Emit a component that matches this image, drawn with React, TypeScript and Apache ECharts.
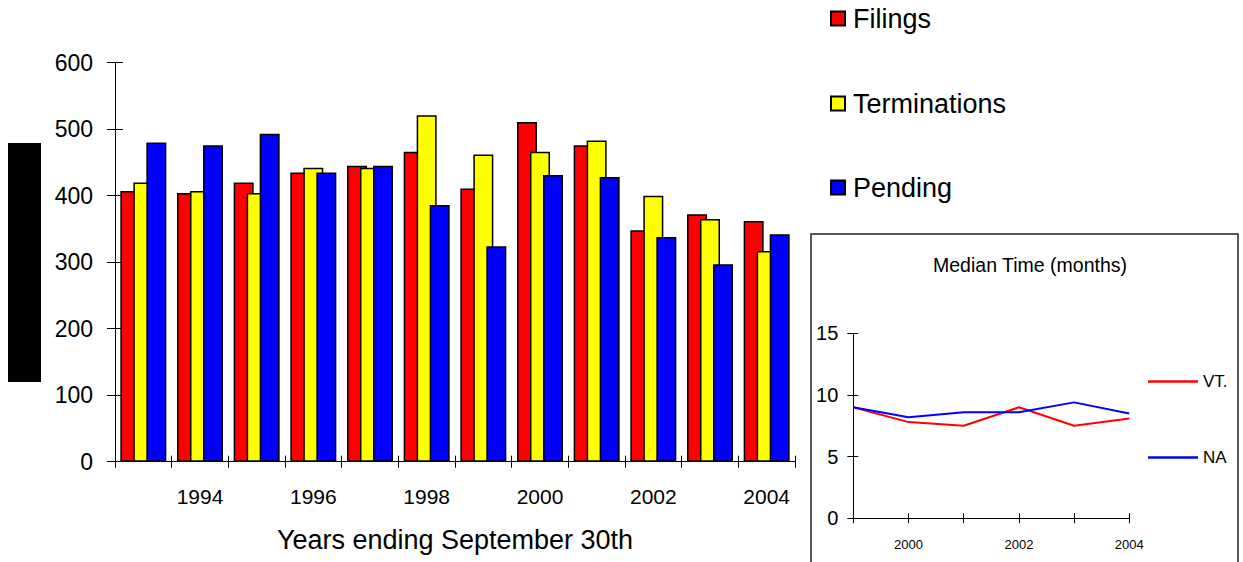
import React, { useEffect, useRef } from "react";
import * as echarts from "echarts";

const years = ["1993", "1994", "1995", "1996", "1997", "1998", "1999", "2000", "2001", "2002", "2003", "2004"];
const filings = [407, 404, 420, 435, 445, 466, 411, 511, 476, 348, 372, 362];
const terminations = [420, 407, 404, 442, 442, 521, 462, 466, 483, 400, 365, 317];
const pending = [480, 476, 493, 435, 445, 386, 324, 431, 428, 338, 297, 342];

const medianYears = ["1999", "2000", "2001", "2002", "2003", "2004"];
const vtMedian = [9.0, 7.8, 7.5, 9.0, 7.5, 8.1];
const naMedian = [9.0, 8.2, 8.6, 8.6, 9.4, 8.5];

const FONT = "'Liberation Sans', Arial, sans-serif";

export default function App() {
  const ref = useRef<HTMLDivElement>(null);
  useEffect(() => {
    if (!ref.current) return;
    const chart = echarts.init(ref.current, null, { renderer: "svg" });
    const barStyle = (c: string) => ({ color: c, borderColor: "#000", borderWidth: 1.5 });
    const axisLine = { show: true, lineStyle: { color: "#000", width: 1 } };
    const legendBase = {
      orient: "vertical",
      padding: 0,
      itemGap: 0,
      selectedMode: false,
    };
    const bigText = { fontFamily: FONT, color: "#000", fontSize: 27, padding: [0, 0, 0, 3] };
    const smallText = { fontFamily: FONT, color: "#000", fontSize: 17, padding: [0, 0, 0, 0] };
    chart.setOption({
      animation: false,
      backgroundColor: "#fff",
      textStyle: { fontFamily: FONT },
      title: {
        text: "Median Time (months)",
        left: 1025,
        top: 250,
        textAlign: "center",
        textStyle: { fontFamily: FONT, fontSize: 19.5, fontWeight: "normal", color: "#000" },
      },
      legend: [
        { ...legendBase, data: ["Filings"], left: 830, top: 5, itemWidth: 14, itemHeight: 14, icon: "rect", textStyle: bigText },
        { ...legendBase, data: ["Terminations"], left: 830, top: 90, itemWidth: 14, itemHeight: 14, icon: "rect", textStyle: bigText },
        { ...legendBase, data: ["Pending"], left: 830, top: 174, itemWidth: 14, itemHeight: 14, icon: "rect", textStyle: bigText },
        { ...legendBase, data: ["VT."], left: 1148, top: 373, itemWidth: 50, itemHeight: 2.5, icon: "rect", textStyle: smallText },
        { ...legendBase, data: ["NA"], left: 1148, top: 449, itemWidth: 50, itemHeight: 2.5, icon: "rect", textStyle: smallText },
      ],
      grid: [
        { left: 115, right: 448, top: 62.7, bottom: 100.3 },
        { left: 853.3, right: 113.7, top: 333.3, bottom: 43.7 },
      ],
      xAxis: [
        {
          type: "category",
          gridIndex: 0,
          data: years,
          axisLine,
          axisTick: { show: true, interval: 0, length: 6, lineStyle: { color: "#000" } },
          axisLabel: {
            interval: (i: number) => i % 2 === 1,
            margin: 24,
            fontSize: 21,
            color: "#000",
            fontFamily: FONT,
          },
          name: "Years ending September 30th",
          nameLocation: "middle",
          nameGap: 65,
          nameTextStyle: { fontSize: 27, color: "#000", fontFamily: FONT },
        },
        {
          type: "category",
          gridIndex: 0,
          data: years,
          position: "bottom",
          axisLine: { show: false },
          axisTick: { show: true, inside: true, interval: 0, length: 6, lineStyle: { color: "#000" } },
          axisLabel: { show: false },
        },
        {
          type: "category",
          gridIndex: 1,
          data: medianYears,
          boundaryGap: false,
          axisLine,
          axisTick: { show: true, interval: 0, length: 5, lineStyle: { color: "#000" } },
          axisLabel: {
            interval: (i: number) => i % 2 === 1,
            margin: 20,
            fontSize: 13,
            color: "#000",
            fontFamily: FONT,
          },
        },
        {
          type: "category",
          gridIndex: 1,
          data: medianYears,
          boundaryGap: false,
          position: "bottom",
          axisLine: { show: false },
          axisTick: { show: true, inside: true, interval: 0, length: 5, lineStyle: { color: "#000" } },
          axisLabel: { show: false },
        },
      ],
      yAxis: [
        {
          type: "value",
          gridIndex: 0,
          min: 0,
          max: 600,
          interval: 100,
          splitLine: { show: false },
          axisLine,
          axisTick: { show: true, length: 8, lineStyle: { color: "#000" } },
          axisLabel: { fontSize: 23, color: "#000", margin: 22, fontFamily: FONT },
        },
        {
          type: "value",
          gridIndex: 0,
          min: 0,
          max: 600,
          interval: 100,
          position: "left",
          splitLine: { show: false },
          axisLine: { show: false },
          axisTick: { show: true, inside: true, length: 8, lineStyle: { color: "#000" } },
          axisLabel: { show: false },
        },
        {
          type: "value",
          gridIndex: 1,
          min: 0,
          max: 15,
          interval: 5,
          splitLine: { show: false },
          axisLine,
          axisTick: { show: true, length: 6, lineStyle: { color: "#000" } },
          axisLabel: { fontSize: 20, color: "#000", margin: 15, fontFamily: FONT },
        },
        {
          type: "value",
          gridIndex: 1,
          min: 0,
          max: 15,
          interval: 5,
          position: "left",
          splitLine: { show: false },
          axisLine: { show: false },
          axisTick: { show: true, inside: true, length: 5, lineStyle: { color: "#000" } },
          axisLabel: { show: false },
        },
      ],
      graphic: [
        { type: "rect", shape: { x: 8, y: 143, width: 33, height: 239 }, style: { fill: "#000" } },
        {
          type: "rect",
          shape: { x: 811, y: 234, width: 427, height: 340 },
          style: { fill: "none", stroke: "#222", lineWidth: 1.5 },
        },
      ],
      series: [
        { name: "Filings", type: "bar", xAxisIndex: 0, yAxisIndex: 0, data: filings, barWidth: 20, barGap: "-35%", itemStyle: barStyle("#FF0000") },
        { name: "Terminations", type: "bar", xAxisIndex: 0, yAxisIndex: 0, data: terminations, barWidth: 20, barGap: "-35%", itemStyle: barStyle("#FFFF00") },
        { name: "Pending", type: "bar", xAxisIndex: 0, yAxisIndex: 0, data: pending, barWidth: 20, barGap: "-35%", itemStyle: barStyle("#0000FF") },
        { name: "VT.", type: "line", xAxisIndex: 2, yAxisIndex: 2, data: vtMedian, symbol: "none", lineStyle: { color: "#FF0000", width: 2 }, itemStyle: { color: "#FF0000", borderWidth: 0 } },
        { name: "NA", type: "line", xAxisIndex: 2, yAxisIndex: 2, data: naMedian, symbol: "none", lineStyle: { color: "#0000FF", width: 2 }, itemStyle: { color: "#0000FF", borderWidth: 0 } },
      ],
    });
    return () => chart.dispose();
  }, []);
  return (
    <div
      ref={ref}
      style={{ position: "fixed", left: 0, top: 0, width: 1243, height: 562, background: "#fff" }}
    />
  );
}
